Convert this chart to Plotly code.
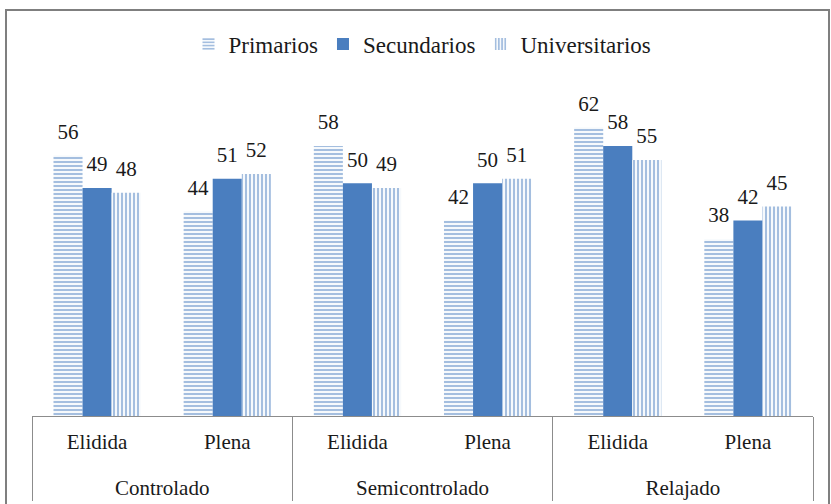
import plotly.graph_objects as go

groups = ["Controlado", "Controlado", "Semicontrolado", "Semicontrolado", "Relajado", "Relajado"]
subcats = ["Elidida", "Plena", "Elidida", "Plena", "Elidida", "Plena"]
primarios = [56, 44, 58, 42, 62, 38]
secundarios = [49, 51, 50, 50, 58, 42]
universitarios = [48, 52, 49, 51, 55, 45]

BLUE = "#4A7EBF"
FONT = "Liberation Serif, DejaVu Serif, serif"
TXT = "#1a1a1a"
AX = "#8c8c8c"

# lower-level labels get an empty second line so the two label rows sit further apart
sub_disp = [s + "<br>\u00a0" for s in subcats]

fig = go.Figure()

def add(name, vals, shape):
    if shape is None:
        marker = dict(color=BLUE, line=dict(width=0))
    else:
        marker = dict(color="white", line=dict(width=0),
                      pattern=dict(shape=shape, fgcolor=BLUE, bgcolor="white",
                                   size=4, solidity=0.55, fillmode="overlay"))
    fig.add_trace(go.Bar(
        x=[groups, sub_disp], y=vals, name=name, marker=marker,
        texttemplate='<span style="font-size:21px">%{y}</span><br>\u00a0',
        textposition="outside", constraintext="none",
        textfont=dict(family=FONT, size=9, color=TXT),
        cliponaxis=False,
    ))

add("Primarios", primarios, "-")
add("Secundarios", secundarios, None)
add("Universitarios", universitarios, "|")

L, R, T, B = 32, 18, 60, 88
W, H = 831, 504
pw = W - L - R
ph = H - T - B

def px_x(x):
    return (x - L) / pw

def px_y(y):
    return (H - B - y) / ph

fig.add_shape(type="rect", xref="paper", yref="paper",
              x0=px_x(6), x1=px_x(829), y0=px_y(512), y1=px_y(10),
              line=dict(color="#7f7f7f", width=2), fillcolor="rgba(0,0,0,0)")

fig.update_layout(
    width=W, height=H,
    margin=dict(l=L, r=R, t=T, b=B, autoexpand=False),
    paper_bgcolor="white", plot_bgcolor="white",
    font=dict(family=FONT, size=20, color=TXT),
    barmode="group", bargap=0.33, bargroupgap=0,
    showlegend=True,
    legend=dict(orientation="h", x=0.5, xanchor="center", y=px_y(44), yanchor="middle",
                font=dict(family=FONT, size=23, color=TXT), itemwidth=30,
                traceorder="normal"),
    xaxis=dict(type="multicategory", showline=True, linecolor=AX, linewidth=1,
               showdividers=True, dividercolor=AX, dividerwidth=1,
               ticks="", ticklabelstandoff=7,
               showgrid=False, automargin=False,
               tickfont=dict(family=FONT, size=21, color=TXT)),
    yaxis=dict(range=[0, 76.5], visible=False, showgrid=False, zeroline=False,
               automargin=False),
)

fig.write_html("out.html", config={"displayModeBar": False},
               post_script="document.body.style.margin='0';")
